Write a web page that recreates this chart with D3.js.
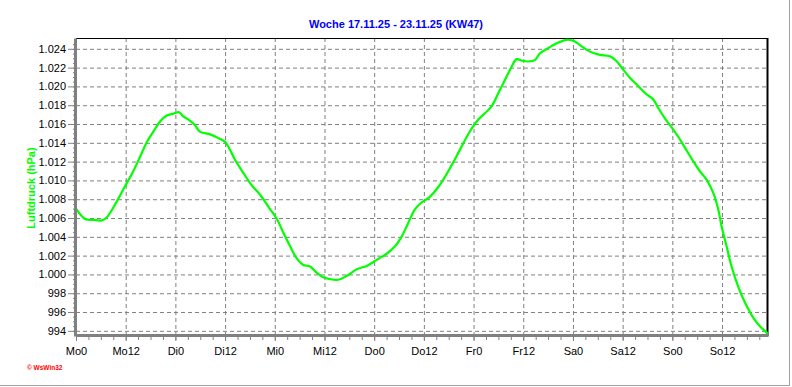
<!DOCTYPE html>
<html>
<head>
<meta charset="utf-8">
<script src="https://cdn.jsdelivr.net/npm/d3@7"></script>
<style>
  body { margin: 0; background: #fff; }
  svg { display: block; font-family: "Liberation Sans", Arial, sans-serif; }
  .grid line { stroke: #808080; stroke-dasharray: 4,3; }
  .grid .domain { display: none; }
  .axis text { font-size: 11px; fill: #000; }
  .axis line { stroke: #808080; }
  .axis .domain { stroke: #808080; stroke-width: 3; }
</style>
</head>
<body>
<div id="chart"></div>
<script>
// hours since Monday 00:00 and pressure in hPa
const hours = [0, 2.2, 4.2, 6.2, 7.4, 9.4, 11.8, 13.8, 15.5, 17.1, 18.7, 20.3, 21.9, 23.5, 24.9, 25.9,
  27.1, 28.7, 29.9, 32.4, 34.4, 36, 37.2, 38.4, 40.4, 42.4, 44.6, 46.6, 48.5, 50.1, 51.7, 53.3,
  54.9, 56.5, 58.1, 59.7, 61.3, 63.3, 65.4, 67.8, 70.2, 72.6, 75, 77, 78.6, 80.2, 81.8, 83.3,
  85.3, 87.5, 90.3, 92.7, 95.1, 97.1, 98.75, 100.4, 102, 103.6, 105.2, 106.4, 107.6, 109.2, 110.8,
  112, 114, 116.1, 118.5, 120.1, 121.7, 124.1, 126.5, 128.9, 130.5, 132.1, 133.8, 135.4, 137.4,
  139.4, 140.6, 142.2, 144, 145.4, 147.1, 149.1, 150.7, 152.3, 153.9, 155.1, 155.9, 157.1, 158.3,
  159.9, 161.6, 163.6, 165.2, 166.8, 167.1];
const pressure = [1007.0, 1005.9, 1005.8, 1005.75, 1006.05, 1007.4, 1009.35, 1010.95, 1012.55, 1014.07,
  1015.2, 1016.27, 1016.9, 1017.1, 1017.25, 1016.8, 1016.5, 1015.9, 1015.2, 1014.9, 1014.5, 1014.1,
  1013.25, 1012.2, 1010.8, 1009.5, 1008.4, 1007.1, 1005.9, 1004.4, 1003.0, 1001.7, 1001.0, 1000.85,
  1000.2, 999.7, 999.5, 999.43, 999.85, 1000.55, 1000.9, 1001.55, 1002.2, 1002.97, 1004.0, 1005.45,
  1006.9, 1007.6, 1008.2, 1009.3, 1011.3, 1013.25, 1015.2, 1016.45, 1017.15, 1017.9, 1019.3, 1020.7,
  1022.1, 1022.9, 1022.75, 1022.65, 1022.8, 1023.5, 1024.07, 1024.6, 1024.96, 1024.85, 1024.4, 1023.7,
  1023.36, 1023.2, 1022.7, 1021.8, 1020.9, 1020.2, 1019.3, 1018.6, 1017.7, 1016.6, 1015.55, 1014.67,
  1013.44, 1012.0, 1010.95, 1010.06, 1008.65, 1006.9, 1005.1, 1003.0, 1000.84, 998.7, 996.95, 995.35,
  994.46, 993.8, 993.7];

const xTickHours = [0, 12, 24, 36, 48, 60, 72, 84, 96, 108, 120, 132, 144, 156];
const xTickLabels = ['Mo0', 'Mo12', 'Di0', 'Di12', 'Mi0', 'Mi12', 'Do0', 'Do12',
  'Fr0', 'Fr12', 'Sa0', 'Sa12', 'So0', 'So12'];
const yTickValues = [994, 996, 998, 1000, 1002, 1004, 1006, 1008, 1010, 1012, 1014, 1016, 1018, 1020, 1022, 1024];
const yTickLabels = ['994', '996', '998', '1.000', '1.002', '1.004', '1.006', '1.008', '1.010',
  '1.012', '1.014', '1.016', '1.018', '1.020', '1.022', '1.024'];

const title = 'Woche 17.11.25 - 23.11.25 (KW47)';
const yTitle = 'Luftdruck (hPa)';

const config = {
  width: 792,
  height: 387,
  margin: {top: 38, right: 24, bottom: 51, left: 76}
};
const width = config.width - config.margin.left - config.margin.right;
const height = config.height - config.margin.top - config.margin.bottom;

const svg = d3.select('#chart').append('svg')
  .attr('width', config.width)
  .attr('height', config.height);

// outer panel edge
svg.append('line').attr('x1', 789.5).attr('x2', 789.5).attr('y1', 0).attr('y2', 386)
  .attr('stroke', '#a0a0a0');
svg.append('line').attr('x1', 0).attr('x2', 790).attr('y1', 385.5).attr('y2', 385.5)
  .attr('stroke', '#a0a0a0');

const chart = svg.append('g')
  .attr('transform', `translate(${config.margin.left},${config.margin.top})`);

const xScale = d3.scaleLinear().domain([0, 167.1]).range([0, width]);
const yScale = d3.scaleLinear().domain([993.45, 1025.15]).range([height, 0]);

// dashed grid
chart.append('g').attr('class', 'grid')
  .call(d3.axisLeft(yScale).tickValues(yTickValues).tickSize(-width).tickFormat(''));
chart.append('g').attr('class', 'grid')
  .attr('transform', `translate(0,${height})`)
  .call(d3.axisBottom(xScale).tickValues(xTickHours.slice(1)).tickSize(height).tickFormat(''))
  .selectAll('line').attr('y2', -height);

// frame top and right
chart.append('line').attr('x1', 0).attr('x2', width).attr('y1', 0.5).attr('y2', 0.5)
  .attr('stroke', '#000');
chart.append('line').attr('x1', width - 0.5).attr('x2', width - 0.5).attr('y1', 0).attr('y2', height)
  .attr('stroke', '#000').attr('stroke-width', 2);

// pressure line
const line = d3.line()
  .x((d, i) => xScale(hours[i]))
  .y(d => yScale(d))
  .curve(d3.curveCatmullRom);

chart.append('path')
  .datum(pressure)
  .attr('fill', 'none')
  .attr('stroke', '#00ff00')
  .attr('stroke-width', 2.2)
  .attr('d', line);

// minor ticks
chart.append('g').attr('class', 'axis')
  .call(d3.axisLeft(yScale).tickValues(d3.range(994, 1025, 0.5)).tickSize(3).tickFormat(''))
  .select('.domain').remove();
chart.append('g').attr('class', 'axis')
  .attr('transform', `translate(0,${height})`)
  .call(d3.axisBottom(xScale).tickValues(d3.range(0, 167, 3)).tickSize(4).tickFormat(''))
  .select('.domain').remove();

// main axes
chart.append('g').attr('class', 'axis')
  .attr('transform', 'translate(-1,0)')
  .call(d3.axisLeft(yScale).tickValues(yTickValues).tickSize(7).tickSizeOuter(0).tickPadding(2)
    .tickFormat((d, i) => yTickLabels[i]));
chart.append('g').attr('class', 'axis')
  .attr('transform', `translate(0,${height - 1})`)
  .call(d3.axisBottom(xScale).tickValues(xTickHours).tickSize(6).tickSizeOuter(0).tickPadding(6)
    .tickFormat((d, i) => xTickLabels[i]));

// titles
svg.append('text')
  .attr('x', 396).attr('y', 28)
  .attr('text-anchor', 'middle')
  .attr('font-size', 11).attr('font-weight', 'bold')
  .attr('fill', '#0000ff')
  .text(title);

svg.append('text')
  .attr('transform', 'translate(35,188) rotate(-90)')
  .attr('text-anchor', 'middle')
  .attr('font-size', 11).attr('font-weight', 'bold')
  .attr('fill', '#00ff00')
  .text(yTitle);

svg.append('text')
  .attr('x', 27).attr('y', 370)
  .attr('font-size', 6.5).attr('font-weight', 'bold')
  .attr('fill', '#ff0000')
  .text('\u00a9 WsWin32');
</script>
</body>
</html>
